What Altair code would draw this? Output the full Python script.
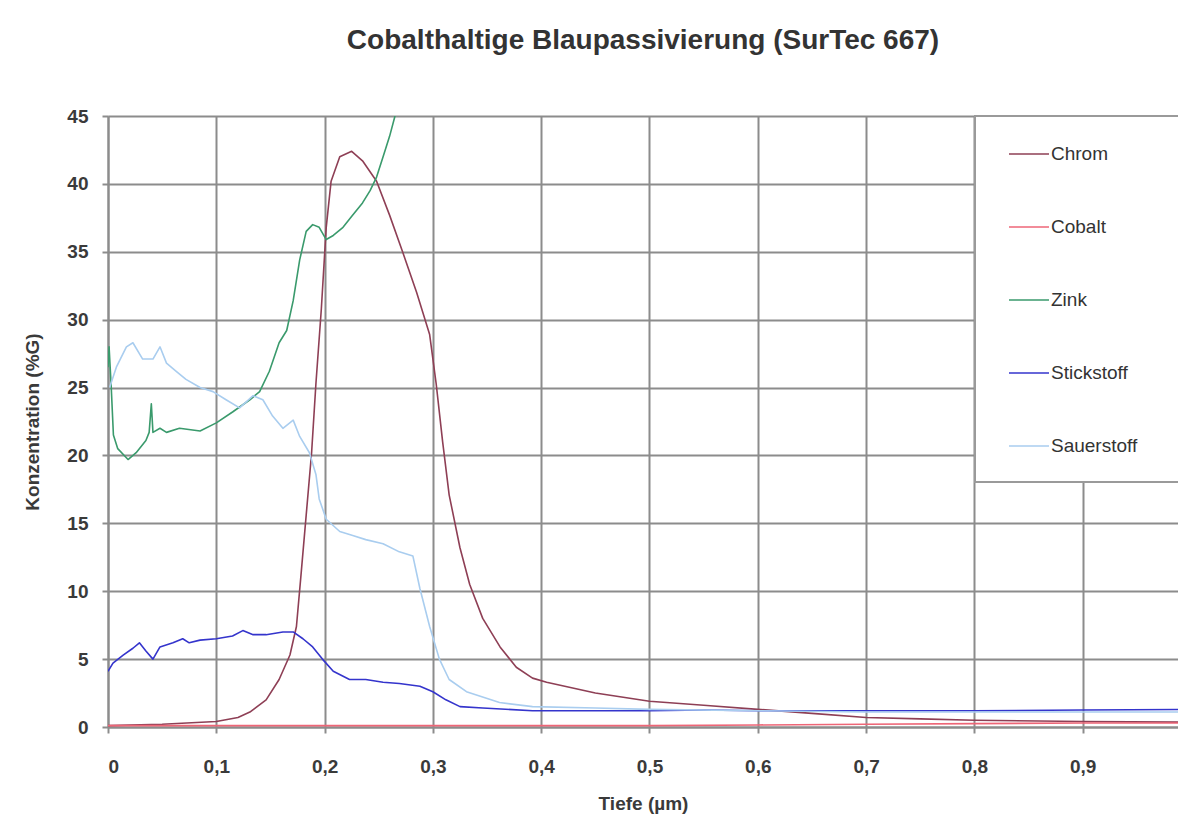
import altair as alt
import pandas as pd

# ---- data ----
chrom_x = [0, 0.05, 0.1, 0.12, 0.131, 0.146, 0.158, 0.168, 0.174, 0.178, 0.183, 0.188, 0.192, 0.197,
           0.2015, 0.206, 0.214, 0.225, 0.235, 0.248, 0.26, 0.272, 0.285, 0.297, 0.303, 0.309, 0.315,
           0.325, 0.334, 0.346, 0.362, 0.377, 0.392, 0.405, 0.45, 0.5, 0.55, 0.6, 0.65, 0.7, 0.75,
           0.8, 0.9, 1.0]
chrom_y = [0.1, 0.2, 0.4, 0.7, 1.1, 2.0, 3.5, 5.3, 7.4, 11.0, 15.6, 20.2, 25.3, 30.8,
           36.8, 40.2, 42.0, 42.4, 41.7, 40.2, 37.7, 35.0, 32.0, 28.9, 25.3, 21.0, 17.1,
           13.2, 10.5, 8.0, 5.9, 4.4, 3.6, 3.3, 2.5, 1.9, 1.6, 1.3, 1.0, 0.7, 0.6,
           0.5, 0.4, 0.35]

cobalt_x = [0, 0.2, 0.4, 0.5, 0.6, 0.7, 0.8, 0.9, 1.0]
cobalt_y = [0.1, 0.1, 0.1, 0.1, 0.15, 0.2, 0.25, 0.3, 0.3]

zink_x = [0, 0.001, 0.003, 0.005, 0.009, 0.0185, 0.026, 0.035, 0.038, 0.040, 0.0415, 0.048, 0.054,
          0.066, 0.085, 0.1, 0.115, 0.131, 0.14, 0.149, 0.158, 0.165, 0.171, 0.177, 0.183, 0.189,
          0.195, 0.2015, 0.208, 0.217, 0.226, 0.235, 0.242, 0.248, 0.254, 0.26, 0.265, 0.272]
zink_y = [26.5, 28.0, 25.0, 21.5, 20.5, 19.7, 20.2, 21.1, 21.7, 23.8, 21.7, 22.0, 21.7,
          22.0, 21.8, 22.4, 23.2, 24.1, 24.7, 26.2, 28.3, 29.2, 31.4, 34.4, 36.5, 37.0,
          36.8, 35.9, 36.2, 36.8, 37.7, 38.6, 39.5, 40.5, 42.0, 43.5, 45.0, 47.0]

stick_x = [0, 0.0046, 0.014, 0.023, 0.029, 0.035, 0.0415, 0.048, 0.06, 0.069, 0.075, 0.085, 0.1,
           0.115, 0.1245, 0.134, 0.146, 0.1615, 0.171, 0.18, 0.189, 0.198, 0.208, 0.223, 0.238,
           0.254, 0.269, 0.288, 0.3, 0.312, 0.325, 0.346, 0.392, 0.5, 0.55, 0.6, 0.7, 0.8, 0.9, 1.0]
stick_y = [4.1, 4.7, 5.3, 5.8, 6.2, 5.6, 5.0, 5.9, 6.2, 6.5, 6.2, 6.4, 6.5,
           6.7, 7.1, 6.8, 6.8, 7.0, 7.0, 6.5, 5.9, 5.0, 4.1, 3.5, 3.5,
           3.3, 3.2, 3.0, 2.6, 2.0, 1.5, 1.4, 1.2, 1.2, 1.25, 1.2, 1.2, 1.2, 1.25, 1.3]

sauer_x = [0.0015, 0.0077, 0.017, 0.023, 0.032, 0.0415, 0.048, 0.054, 0.063, 0.072, 0.085, 0.097,
           0.109, 0.1215, 0.134, 0.143, 0.152, 0.1615, 0.171, 0.177, 0.186, 0.192, 0.195, 0.2015,
           0.214, 0.226, 0.238, 0.254, 0.269, 0.2815, 0.288, 0.297, 0.306, 0.315, 0.331, 0.3615,
           0.392, 0.45, 0.5, 0.6, 0.7, 0.8, 0.9, 1.0]
sauer_y = [25.0, 26.5, 28.0, 28.3, 27.1, 27.1, 28.0, 26.8, 26.2, 25.6, 25.0, 24.7,
           24.1, 23.5, 24.4, 24.1, 22.9, 22.0, 22.6, 21.4, 20.2, 18.6, 16.8, 15.3,
           14.4, 14.1, 13.8, 13.5, 12.9, 12.6, 10.2, 7.4, 5.0, 3.5, 2.6, 1.8,
           1.5, 1.4, 1.3, 1.2, 1.1, 1.1, 1.1, 1.1]

series_names = ["Chrom", "Cobalt", "Zink", "Stickstoff", "Sauerstoff"]
series_colors = ["#8e3f55", "#ee6677", "#3a9a6c", "#3434cc", "#a9cdef"]
x_ticks = [0, 0.1, 0.2, 0.3, 0.4, 0.5, 0.6, 0.7, 0.8, 0.9]
y_ticks = [0, 5, 10, 15, 20, 25, 30, 35, 40, 45]

rows = []
for name, xs, ys in [("Chrom", chrom_x, chrom_y), ("Cobalt", cobalt_x, cobalt_y),
                     ("Zink", zink_x, zink_y), ("Stickstoff", stick_x, stick_y),
                     ("Sauerstoff", sauer_x, sauer_y)]:
    for i, (xv, yv) in enumerate(zip(xs, ys)):
        rows.append({"serie": name, "tiefe": xv, "konz": yv, "idx": i})
df = pd.DataFrame(rows)

W, H = 1070, 611

color = alt.Color(
    "serie:N",
    scale=alt.Scale(domain=series_names, range=series_colors),
    legend=alt.Legend(
        title=None, orient="none", legendX=900, legendY=17,
        symbolType="stroke", symbolSize=1600, symbolStrokeWidth=2.5,
        labelFontSize=19, labelFont="Liberation Sans", labelColor="#333333",
        labelOffset=1, rowPadding=42, padding=0,
    ),
)

lines = alt.Chart(df).mark_line(clip=True, strokeJoin="round").encode(
    x=alt.X("tiefe:Q",
            scale=alt.Scale(domain=[0, 0.988], nice=False, zero=False),
            axis=alt.Axis(title="Tiefe (µm)", values=x_ticks,
                          labelExpr="datum.value == 0 ? '0' : replace(format(datum.value, '.1f'), '.', ',')",
                          labelPadding=24, titlePadding=18)),
    y=alt.Y("konz:Q",
            scale=alt.Scale(domain=[0, 45], nice=False),
            axis=alt.Axis(title="Konzentration (%G)", values=y_ticks,
                          labelPadding=14, titlePadding=24)),
    color=color,
    strokeWidth=alt.StrokeWidth("serie:N",
                                scale=alt.Scale(domain=series_names, range=[1.6, 1.6, 2.2, 3.0, 1.6]),
                                legend=None),
    order="idx:Q",
)

frame = alt.Chart(alt.Data(values=[{"a": 1}])).mark_rect(
    fill="white", stroke="#9a9a9a", strokeWidth=2
).encode(
    x=alt.value(867), x2=alt.value(1085), y=alt.value(0), y2=alt.value(366)
)

chart = alt.layer(frame, lines).properties(
    width=W, height=H,
    background="white",
    autosize=alt.AutoSizeParams(type="none"),
    padding={"left": 108, "top": 116, "right": 0, "bottom": 98},
    title=alt.TitleParams(
        "Cobalthaltige Blaupassivierung (SurTec 667)",
        fontSize=28, font="Liberation Sans", fontWeight="bold", color="#333333",
        anchor="middle", offset=52,
    ),
).configure_view(stroke=None).configure_axis(
    gridColor="#8c8c8c", gridWidth=2, domainColor="#8c8c8c", domainWidth=2,
    tickColor="#8c8c8c", tickSize=6, tickWidth=2,
    labelFont="Liberation Sans", labelFontSize=19, labelFontWeight="bold", labelColor="#3a3a3a",
    titleFont="Liberation Sans", titleFontSize=19, titleFontWeight="bold", titleColor="#3a3a3a",
)

chart.save("out.html", embed_options={"renderer": "svg", "actions": False})
